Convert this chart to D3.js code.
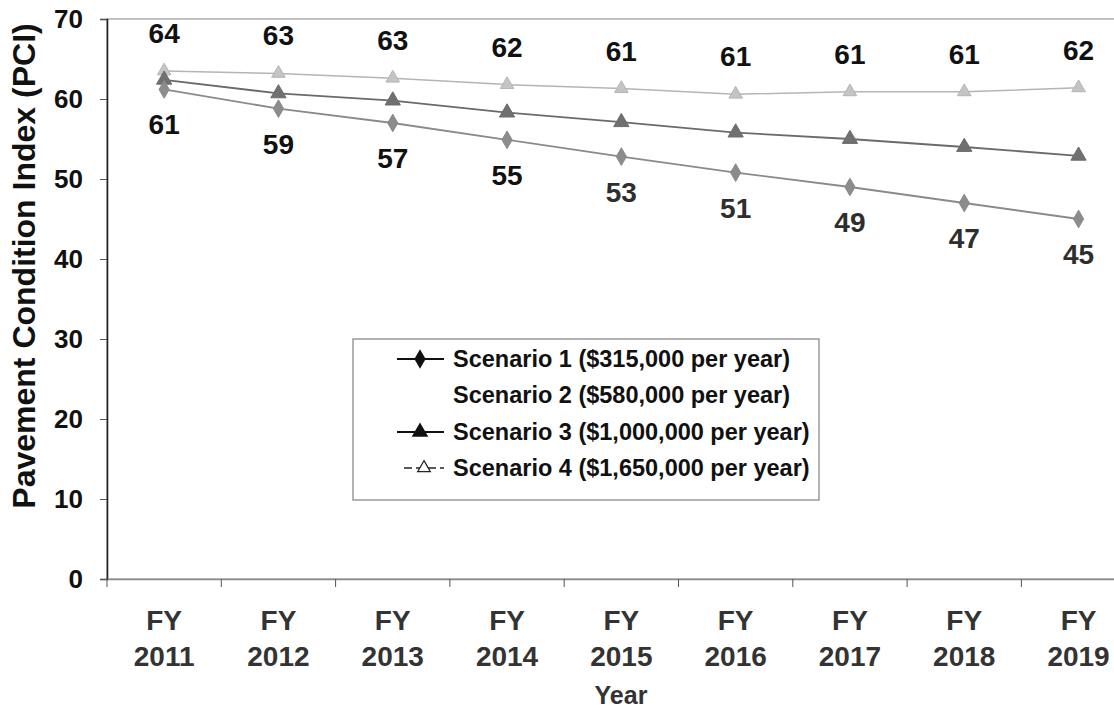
<!DOCTYPE html>
<html>
<head>
<meta charset="utf-8">
<script src="https://cdn.jsdelivr.net/npm/d3@7"></script>
<style>
  body { margin: 0; background: #fff; }
  svg { font-family: "Liberation Sans", Arial, sans-serif; font-weight: bold; }
</style>
</head>
<body>
<div id="viz-container"></div>
<script>
// chart data
var years = ["2011", "2012", "2013", "2014", "2015", "2016", "2017", "2018", "2019"];
var scenario1 = [61.2, 58.8, 57, 54.9, 52.8, 50.8, 49, 47, 45];
var scenario3 = [62.4, 60.7, 59.8, 58.3, 57.1, 55.8, 55, 54, 52.9];
var scenario4 = [63.5, 63.2, 62.6, 61.8, 61.3, 60.6, 60.9, 60.9, 61.4];
var labelsTop = [64, 63, 63, 62, 61, 61, 61, 61, 62];
var labelsBottom = [61, 59, 57, 55, 53, 51, 49, 47, 45];
var yTicks = [0, 10, 20, 30, 40, 50, 60, 70];
var legendNames = [
  "Scenario 1 ($315,000 per year)",
  "Scenario 2 ($580,000 per year)",
  "Scenario 3 ($1,000,000 per year)",
  "Scenario 4 ($1,650,000 per year)"
];

var width = 1114, height = 711;
var margin = { top: 19, left: 107 };

var svg = d3.select('#viz-container')
  .append('svg')
    .attr('width', width)
    .attr('height', height);

var xScale = d3.scaleBand()
  .domain(years)
  .range([margin.left, margin.left + 9 * 114.3]);

var yScale = d3.scaleLinear()
  .domain([0, 70])
  .range([579, margin.top]);

// plot area frame
svg.append('rect')
  .attr('x', margin.left)
  .attr('y', yScale(70))
  .attr('width', xScale.range()[1] - margin.left)
  .attr('height', yScale(0) - yScale(70))
  .attr('fill', 'none')
  .attr('stroke', '#9a9a9a')
  .attr('stroke-width', 1.2);

// y axis
var yAxis = d3.axisLeft(yScale).tickValues(yTicks).tickSize(7).tickPadding(17);
var gy = svg.append('g')
  .attr('transform', 'translate(' + margin.left + ',0)')
  .call(yAxis);
gy.select('.domain').attr('stroke', '#222').attr('stroke-width', 1.6);
gy.selectAll('.tick line').attr('stroke', '#555');
gy.selectAll('.tick text')
  .attr('font-size', 26).attr('fill', '#111')
  .attr('font-family', '"Liberation Sans", Arial, sans-serif')
  .attr('font-weight', 'bold');

// x axis
var xAxis = d3.axisBottom(xScale).tickSize(0).tickFormat('');
var gx = svg.append('g')
  .attr('transform', 'translate(0,' + yScale(0) + ')')
  .call(xAxis);
gx.select('.domain').attr('stroke', '#8a8a8a').attr('stroke-width', 1.6);

// tick marks at band boundaries
var bounds = years.map(function(d){ return xScale(d); }).concat([xScale.range()[1]]);
svg.selectAll('.xtick')
  .data(bounds)
  .enter().append('line')
    .attr('x1', function(d){ return d; })
    .attr('x2', function(d){ return d; })
    .attr('y1', yScale(0))
    .attr('y2', yScale(0) + 8)
    .attr('stroke', '#555');

var xlab = svg.selectAll('.xlab')
  .data(years)
  .enter().append('text')
    .attr('text-anchor', 'middle')
    .attr('font-size', 28)
    .attr('fill', '#333')
    .attr('x', function(d){ return xScale(d) + xScale.bandwidth() / 2; });
xlab.append('tspan').attr('y', 630).text('FY');
xlab.append('tspan')
  .attr('x', function(d){ return xScale(d) + xScale.bandwidth() / 2; })
  .attr('y', 666).text(function(d){ return d; });

// axis titles
svg.append('text')
  .attr('text-anchor', 'middle')
  .attr('font-size', 25)
  .attr('fill', '#333')
  .attr('x', 621).attr('y', 704)
  .text('Year');

svg.append('text')
  .attr('text-anchor', 'middle')
  .attr('font-size', 32)
  .attr('fill', '#111')
  .attr('transform', 'translate(35,266) rotate(-90)')
  .text('Pavement Condition Index (PCI)');

// series
var cx = function(d, i){ return xScale(years[i]) + xScale.bandwidth() / 2; };
var series = [
  { values: scenario4, stroke: '#b5b5b5', fill: '#c4c4c4', sw: 1.5, sym: d3.symbolTriangle, size: 80 },
  { values: scenario3, stroke: '#6a6a6a', fill: '#707070', sw: 1.8, sym: d3.symbolTriangle, size: 100 },
  { values: scenario1, stroke: '#8a8a8a', fill: '#8c8c8c', sw: 1.8, sym: d3.symbolDiamond, size: 90 }
];

series.forEach(function(s){
  var line = d3.line()
    .x(cx)
    .y(function(d){ return yScale(d); });
  svg.append('path')
    .datum(s.values)
    .attr('d', line)
    .attr('fill', 'none')
    .attr('stroke', s.stroke)
    .attr('stroke-width', s.sw);
  svg.selectAll(null)
    .data(s.values)
    .enter().append('path')
      .attr('d', d3.symbol().type(s.sym).size(s.size))
      .attr('transform', function(d, i){ return 'translate(' + cx(d, i) + ',' + yScale(d) + ')'; })
      .attr('fill', s.fill)
      .attr('stroke', s.stroke)
      .attr('stroke-width', 1);
});

// data labels
svg.selectAll('.ltop')
  .data(labelsTop)
  .enter().append('text')
    .attr('text-anchor', 'middle')
    .attr('font-size', 28)
    .attr('fill', '#111')
    .attr('x', cx)
    .attr('y', function(d, i){ return yScale(scenario4[i]) - 38 + 10; })
    .text(function(d){ return d; });

svg.selectAll('.lbot')
  .data(labelsBottom)
  .enter().append('text')
    .attr('text-anchor', 'middle')
    .attr('font-size', 28)
    .attr('fill', function(d, i){ return i < 4 ? '#111' : '#2e2e2e'; })
    .attr('x', cx)
    .attr('y', function(d, i){ return yScale(scenario1[i]) + 35 + 10; })
    .text(function(d){ return d; });

// legend
var legend = svg.append('g');
legend.append('rect')
  .attr('x', 353).attr('y', 339)
  .attr('width', 466).attr('height', 161)
  .attr('fill', '#fff')
  .attr('stroke', '#8a8a8a')
  .attr('stroke-width', 1.3);

var rowY = [359, 395, 432, 468];
legendNames.forEach(function(name, i){
  var y = rowY[i];
  legend.append('text')
    .attr('x', 453).attr('y', y + 8)
    .attr('font-size', 23.5)
    .attr('fill', '#111')
    .text(name);
  if (i === 0 || i === 2) {
    legend.append('line')
      .attr('x1', 397).attr('x2', 444).attr('y1', y).attr('y2', y)
      .attr('stroke', '#111').attr('stroke-width', 2);
    legend.append('path')
      .attr('d', d3.symbol().type(i === 0 ? d3.symbolDiamond : d3.symbolTriangle).size(i === 0 ? 110 : 120))
      .attr('transform', 'translate(420,' + y + ')')
      .attr('fill', '#111');
  } else if (i === 3) {
    legend.append('line')
      .attr('x1', 404).attr('x2', 444).attr('y1', y).attr('y2', y)
      .attr('stroke', '#222').attr('stroke-width', 1.3)
      .attr('stroke-dasharray', '8,4');
    legend.append('path')
      .attr('d', d3.symbol().type(d3.symbolTriangle).size(70))
      .attr('transform', 'translate(424,' + y + ')')
      .attr('fill', '#fff')
      .attr('stroke', '#222')
      .attr('stroke-width', 1.2);
  }
});
</script>
</body>
</html>
